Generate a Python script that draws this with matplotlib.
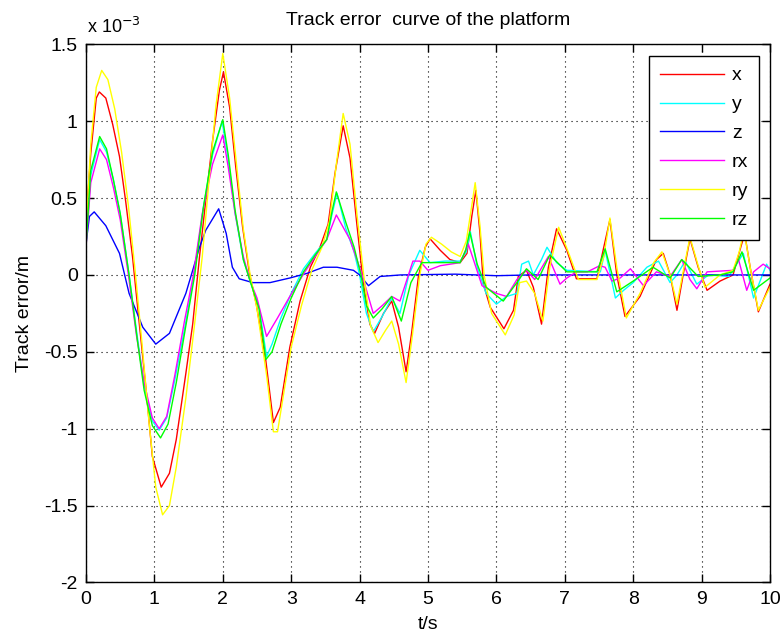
import matplotlib
matplotlib.use("Agg")
import matplotlib.pyplot as plt

plt.rcParams['font.family'] = ['Liberation Sans', 'DejaVu Sans']

# valores (unidades de 1e-3 m)
t_x = [0, 0.07, 0.15, 0.195, 0.29, 0.39, 0.49, 0.58, 0.68, 0.78, 0.88, 0.97, 1.10, 1.22, 1.32,
       1.46, 1.56, 1.66, 1.75, 1.85, 1.95, 2.01, 2.10, 2.19, 2.29, 2.39, 2.49, 2.63, 2.74, 2.84,
       2.98, 3.13, 3.28, 3.42, 3.54, 3.64, 3.76, 3.86, 3.96, 4.05, 4.15, 4.22, 4.35, 4.47, 4.57,
       4.68, 4.76, 4.86, 4.96, 5.03, 5.18, 5.32, 5.47, 5.57, 5.64, 5.70, 5.76, 5.81, 5.91, 6.11,
       6.25, 6.32, 6.44, 6.54, 6.66, 6.76, 6.88, 7.03, 7.17, 7.47, 7.56, 7.66, 7.76, 7.88, 8.10,
       8.34, 8.44, 8.54, 8.64, 8.73, 8.83, 8.95, 9.08, 9.27, 9.46, 9.56, 9.63, 9.71, 9.83, 10.0]
v_x = [0.35, 0.79, 1.15, 1.19, 1.15, 0.98, 0.77, 0.48, 0.12, -0.32, -0.75, -1.18, -1.38, -1.29, -1.07,
       -0.64, -0.32, 0.12, 0.48, 0.87, 1.20, 1.32, 1.09, 0.70, 0.31, 0.01, -0.19, -0.56, -0.96, -0.86,
       -0.47, -0.17, 0.05, 0.18, 0.33, 0.66, 0.97, 0.76, 0.33, -0.04, -0.32, -0.38, -0.25, -0.17, -0.34,
       -0.63, -0.38, -0.01, 0.18, 0.235, 0.16, 0.10, 0.08, 0.14, 0.38, 0.55, 0.27, -0.06, -0.21, -0.35,
       -0.23, -0.01, 0.03, -0.08, -0.32, 0.05, 0.30, 0.16, -0.025, -0.025, 0.16, 0.36, 0.0, -0.27, -0.14,
       0.10, 0.14, 0.0, -0.23, 0.0, 0.235, 0.05, -0.10, -0.04, 0.0, 0.16, 0.27, 0.05, -0.24, -0.06]

t_y = [0, 0.07, 0.2, 0.3, 0.4, 0.5, 0.63, 0.75, 0.85, 0.97, 1.07, 1.18, 1.30, 1.45, 1.58,
       1.72, 1.85, 1.99, 2.08, 2.18, 2.30, 2.40, 2.53, 2.64, 2.72, 2.85, 3.00, 3.18, 3.35, 3.52,
       3.60, 3.67, 3.80, 3.92, 4.00, 4.10, 4.20, 4.33, 4.47, 4.59, 4.72, 4.88, 5.03, 5.25, 5.47,
       5.56, 5.62, 5.72, 5.85, 6.00, 6.15, 6.30, 6.37, 6.47, 6.54, 6.66, 6.74, 6.88, 7.03, 7.52,
       7.59, 7.74, 7.86, 8.00, 8.20, 8.37, 8.54, 8.64, 8.76, 8.93, 9.10, 9.40, 9.61, 9.76, 9.95, 10.0]
v_y = [0.2, 0.65, 0.88, 0.80, 0.62, 0.40, 0.0, -0.40, -0.72, -0.95, -1.01, -0.93, -0.68, -0.33, 0.0,
       0.45, 0.78, 1.0, 0.75, 0.40, 0.10, -0.04, -0.21, -0.53, -0.45, -0.28, -0.12, 0.04, 0.14, 0.23,
       0.40, 0.53, 0.30, 0.15, 0.0, -0.25, -0.37, -0.27, -0.15, -0.25, 0.0, 0.16, 0.08, 0.09, 0.09,
       0.15, 0.28, 0.05, -0.12, -0.19, -0.14, -0.12, 0.07, 0.09, 0.0, 0.10, 0.18, 0.08, 0.03, 0.02,
       0.16, -0.15, -0.10, -0.05, 0.05, 0.09, -0.05, 0.0, 0.09, -0.06, 0.0, -0.01, 0.14, -0.15, 0.07, 0.03]

t_z = [0, 0.05, 0.12, 0.29, 0.49, 0.63, 0.83, 1.02, 1.22, 1.46, 1.66, 1.75, 1.94, 2.05, 2.14,
       2.24, 2.44, 2.69, 2.98, 3.23, 3.47, 3.67, 3.91, 4.0, 4.13, 4.30, 4.6, 5.4, 6.0, 6.5, 10.0]
v_z = [0.2, 0.38, 0.41, 0.32, 0.14, -0.12, -0.34, -0.45, -0.38, -0.12, 0.18, 0.29, 0.43, 0.27, 0.05,
       -0.025, -0.05, -0.05, -0.02, 0.01, 0.05, 0.05, 0.03, 0.0, -0.07, -0.01, 0.0, 0.005, -0.005, 0.0, 0.0]

t_rx = [0, 0.07, 0.2, 0.3, 0.4, 0.5, 0.62, 0.74, 0.85, 0.97, 1.07, 1.18, 1.30, 1.44, 1.57,
        1.70, 1.85, 2.0, 2.08, 2.18, 2.30, 2.40, 2.50, 2.64, 2.80, 2.98, 3.20, 3.35, 3.52, 3.66,
        3.86, 4.03, 4.20, 4.33, 4.47, 4.59, 4.78, 4.88, 5.00, 5.18, 5.47, 5.59, 5.79, 6.00, 6.15,
        6.30, 6.44, 6.56, 6.76, 6.93, 7.03, 7.17, 7.33, 7.51, 7.59, 7.69, 7.81, 7.96, 8.15, 8.34,
        8.54, 8.71, 8.83, 8.93, 9.08, 9.46, 9.54, 9.66, 9.76, 9.90, 10.0]
v_rx = [0.18, 0.60, 0.82, 0.75, 0.57, 0.36, 0.0, -0.40, -0.70, -0.93, -1.0, -0.92, -0.65, -0.30, 0.0,
        0.40, 0.72, 0.91, 0.70, 0.40, 0.12, -0.04, -0.15, -0.40, -0.28, -0.14, 0.02, 0.12, 0.23, 0.39,
        0.23, 0.01, -0.25, -0.20, -0.14, -0.17, 0.09, 0.09, 0.03, 0.06, 0.08, 0.20, -0.07, -0.12, -0.14,
        -0.03, 0.03, -0.03, 0.12, -0.06, -0.02, 0.02, 0.02, 0.06, 0.05, -0.04, -0.02, 0.04, -0.07, 0.02,
        -0.01, 0.10, -0.03, -0.09, 0.02, 0.03, 0.10, -0.10, 0.02, 0.07, 0.04]

t_ry = [0, 0.07, 0.15, 0.23, 0.32, 0.42, 0.52, 0.62, 0.72, 0.82, 0.92, 1.02, 1.12, 1.22, 1.32,
        1.46, 1.58, 1.70, 1.80, 1.90, 2.0, 2.10, 2.20, 2.30, 2.40, 2.50, 2.64, 2.74, 2.80, 2.88,
        3.00, 3.15, 3.30, 3.45, 3.56, 3.66, 3.76, 3.86, 3.96, 4.06, 4.16, 4.27, 4.38, 4.47, 4.57,
        4.68, 4.77, 4.88, 4.97, 5.05, 5.20, 5.34, 5.47, 5.56, 5.64, 5.69, 5.76, 5.82, 5.93, 6.13,
        6.26, 6.34, 6.44, 6.56, 6.68, 6.78, 6.91, 7.05, 7.20, 7.47, 7.57, 7.66, 7.76, 7.90, 8.10,
        8.30, 8.42, 8.54, 8.64, 8.73, 8.83, 8.95, 9.05, 9.27, 9.46, 9.55, 9.62, 9.71, 9.83, 10.0]
v_ry = [0.3, 0.85, 1.22, 1.33, 1.27, 1.08, 0.80, 0.45, 0.02, -0.45, -0.95, -1.38, -1.56, -1.50, -1.25,
        -0.80, -0.35, 0.12, 0.62, 1.10, 1.44, 1.15, 0.72, 0.30, 0.0, -0.22, -0.65, -1.02, -1.02, -0.80,
        -0.47, -0.20, 0.03, 0.18, 0.35, 0.72, 1.05, 0.85, 0.40, 0.0, -0.33, -0.44, -0.36, -0.30, -0.45,
        -0.70, -0.40, 0.0, 0.20, 0.245, 0.20, 0.15, 0.12, 0.22, 0.45, 0.60, 0.32, 0.0, -0.25, -0.39,
        -0.26, -0.05, -0.04, -0.12, -0.30, 0.05, 0.31, 0.15, -0.03, -0.03, 0.12, 0.37, 0.05, -0.28, -0.12,
        0.08, 0.15, 0.0, -0.19, 0.02, 0.245, 0.06, -0.08, 0.0, 0.03, 0.15, 0.29, 0.05, -0.23, -0.08]

t_rz = [0, 0.07, 0.2, 0.3, 0.4, 0.5, 0.63, 0.75, 0.85, 0.97, 1.09, 1.20, 1.32, 1.46, 1.59,
        1.72, 1.85, 2.0, 2.08, 2.18, 2.30, 2.40, 2.53, 2.63, 2.72, 2.85, 3.00, 3.18, 3.35, 3.52,
        3.60, 3.66, 3.80, 3.92, 4.02, 4.10, 4.20, 4.33, 4.47, 4.61, 4.75, 4.91, 5.20, 5.47, 5.55,
        5.61, 5.72, 5.85, 6.10, 6.30, 6.44, 6.61, 6.78, 7.03, 7.47, 7.59, 7.76, 8.00, 8.29, 8.54,
        8.71, 8.95, 9.27, 9.46, 9.59, 9.76, 10.0]
v_rz = [0.18, 0.68, 0.90, 0.82, 0.62, 0.40, 0.0, -0.42, -0.75, -0.98, -1.06, -0.97, -0.70, -0.33, 0.0,
        0.45, 0.80, 1.01, 0.78, 0.42, 0.10, -0.04, -0.22, -0.55, -0.50, -0.32, -0.15, 0.02, 0.13, 0.23,
        0.42, 0.54, 0.34, 0.18, 0.0, -0.20, -0.28, -0.22, -0.14, -0.30, -0.05, 0.08, 0.08, 0.08, 0.16,
        0.28, 0.07, -0.08, -0.17, -0.05, 0.04, -0.03, 0.13, 0.02, 0.02, 0.17, -0.11, -0.04, 0.05, -0.02,
        0.10, -0.01, 0.0, 0.02, 0.15, -0.10, -0.02]

series = [("x", t_x, v_x, (1, 0, 0)),
          ("y", t_y, v_y, (0, 1, 1)),
          ("z", t_z, v_z, (0, 0, 1)),
          ("rx", t_rx, v_rx, (1, 0, 1)),
          ("ry", t_ry, v_ry, (1, 1, 0)),
          ("rz", t_rz, v_rz, (0, 1, 0))]

yticks = [-2, -1.5, -1, -0.5, 0, 0.5, 1, 1.5]
ytick_labels = ["-2", "-1.5", "-1", "-0.5", "0", "0.5", "1", "1.5"]
xticks = list(range(0, 11))

fig = plt.figure(figsize=(7.81, 6.37), dpi=100)
ax = fig.add_axes([0.1101, 0.0856, 0.8758, 0.8449])

for name, t, v, c in series:
    ax.plot(t, v, color=c, lw=1.0, label=name)

ax.set_xlim(0, 10)
ax.set_ylim(-2, 1.5)
ax.set_xticks(xticks)
ax.set_xticklabels([str(k) for k in xticks])
ax.set_yticks(yticks)
ax.set_yticklabels(ytick_labels)
ax.tick_params(direction='in', length=6, width=1, top=True, right=True, labelsize=14, pad=6)
ax.grid(True, color='black', linestyle=(0, (1, 3.5)), lw=0.8)
for s in ax.spines.values():
    s.set_linewidth(1.0)

ax.set_title("Track error  curve of the platform", fontsize=14, pad=14)
ax.set_xlabel("t/s", fontsize=14, labelpad=6)
ax.set_ylabel("Track error/m", fontsize=14, labelpad=8)
ax.text(0.002, 1.014, "x 10$^{-3}$", transform=ax.transAxes, fontsize=13, va='bottom', ha='left')

leg = ax.legend(loc='upper right', bbox_to_anchor=(0.984, 0.978), fontsize=14, handlelength=3.3,
                handletextpad=0.4, labelspacing=0.58, fancybox=False, framealpha=1,
                edgecolor='black', borderpad=0.55, borderaxespad=0)
leg.get_frame().set_linewidth(1.0)

fig.savefig("out.png", dpi=100)
